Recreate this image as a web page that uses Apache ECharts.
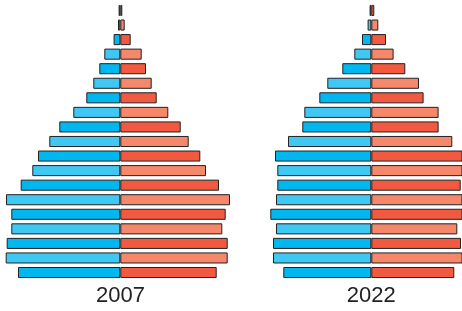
<!DOCTYPE html>
<html>
<head>
<meta charset="utf-8">
<script src="https://cdn.jsdelivr.net/npm/echarts@6/dist/echarts.min.js"></script>
<style>html,body{margin:0;padding:0;background:#fff;}#c{width:462px;height:311px;}</style>
</head>
<body>
<div id="c"></div>
<script>
// Age groups, bottom (youngest) to top (oldest)
const categories = ['0-4','5-9','10-14','15-19','20-24','25-29','30-34','35-39','40-44','45-49','50-54','55-59','60-64','65-69','70-74','75-79','80-84','85-89','90+'];
const years = ['2007', '2022'];
// Population by age group (relative units), bottom to top
const male2007   = [102.3,114.6,113.6,109,109,114.3,99.6,88,82.3,71,61,47,34,27,21,16,6.7,2.3,1.7];
const female2007 = [96.4,107.4,107.4,102,105.4,109.7,98.7,85.7,80,68.4,60.4,48,36.4,31.4,25.7,21.4,10.4,4.4,2];
const male2022   = [88,98.3,98.3,95.3,101,95.3,94,94,96.3,83.3,69,67,52,44,29,17,9.3,3.7,1.7];
const female2022 = [83,94,89.7,86,97,94,89.4,95,93,81,67.3,67.3,52.3,47.7,34,22.3,14.7,7,3];

const maleDark = '#00b7ef', maleLight = '#40c8f4';
const femDark = '#f15a40', femLight = '#f5876b';

const chart = echarts.init(document.getElementById('c'));
const grids = [
  {left: 0.3, width: 240, top: 3.2, height: 276.6},
  {left: 251.3, width: 210.7, top: 3.2, height: 276.6}
];
const xAxes = [
  {gridIndex: 0, type: 'value', min: -120, max: 120, show: false},
  {gridIndex: 1, type: 'value', min: -120, max: 90.7, show: false}
];
const yAxes = grids.map((g, i) => ({gridIndex: i, type: 'category', data: categories, show: false}));
function mk(data, idx, dark, light, sign) {
  return {
    type: 'bar', xAxisIndex: idx, yAxisIndex: idx,
    data: data.map(v => sign * v),
    barCategoryGap: '24%', barGap: '-100%',
    silent: true, animation: false, clip: true,
    itemStyle: {
      borderColor: '#222', borderWidth: 1,
      color: p => (p.dataIndex % 2 === 0 ? dark : light)
    }
  };
}
chart.setOption({
  animation: false,
  grid: grids,
  xAxis: xAxes,
  yAxis: yAxes,
  series: [
    mk(male2007, 0, maleDark, maleLight, -1),
    mk(female2007, 0, femDark, femLight, 1),
    mk(male2022, 1, maleDark, maleLight, -1),
    mk(female2022, 1, femDark, femLight, 1)
  ],
  graphic: [
    {type: 'text', x: 120.5, y: 296, style: {text: years[0], fill: '#222', font: '22px "Liberation Sans", Arial, sans-serif', textAlign: 'center', textVerticalAlign: 'middle'}},
    {type: 'text', x: 371.3, y: 296, style: {text: years[1], fill: '#222', font: '22px "Liberation Sans", Arial, sans-serif', textAlign: 'center', textVerticalAlign: 'middle'}}
  ]
});
</script>
</body>
</html>
